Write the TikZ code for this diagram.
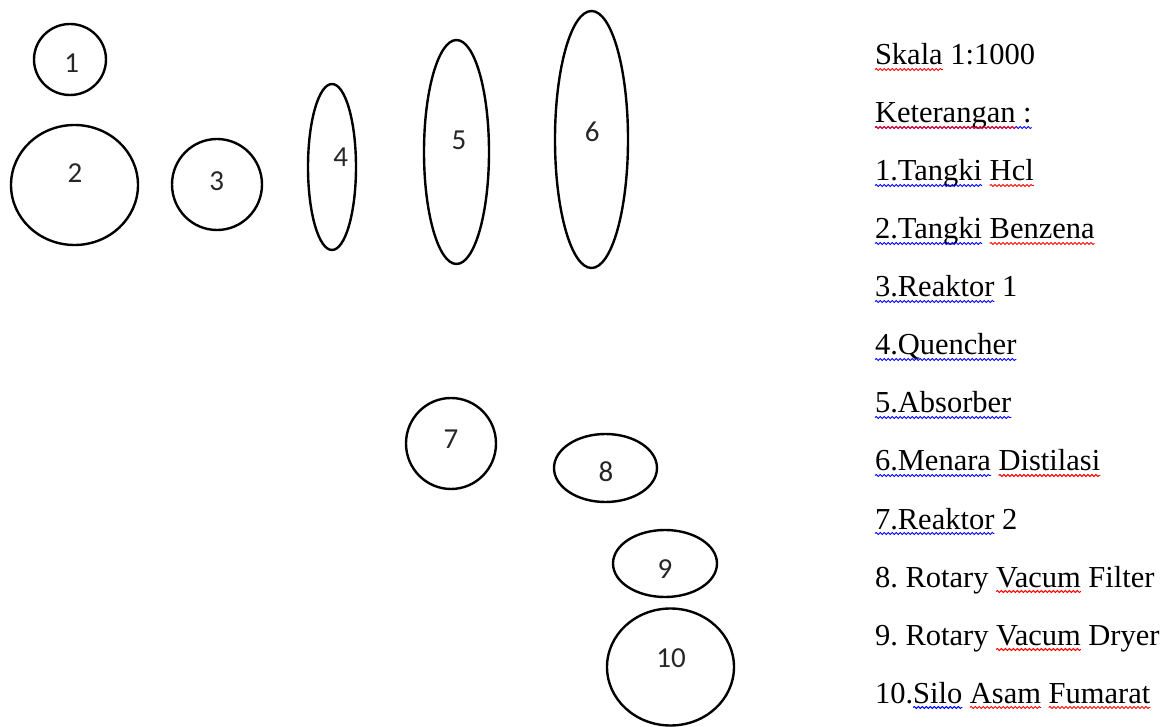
\documentclass[tikz,border=0pt]{standalone}
\usepackage{fontspec}
\setmainfont{Liberation Serif}
\newfontfamily\numfont{Carlito}
\usetikzlibrary{shapes.geometric,decorations.pathmorphing}
\frenchspacing
\newcommand\sqline[3]{\draw[#1] ([yshift=-4.5pt]#2.base west) -- ([yshift=-4.5pt]#3.base east);}
\begin{document}
\begin{tikzpicture}[x=1pt,y=-1pt,
  tank/.style={draw, ellipse, line width=2.4pt, inner sep=0pt},
  num/.style={font=\numfont\fontsize{29}{34}\selectfont, inner sep=0pt, text=black!85},
  lg/.style={font=\fontsize{30.5}{36}\selectfont, inner sep=0pt, outer sep=0pt, anchor=base west},
  wv/.style={decorate, decoration={snake, amplitude=1pt, segment length=4pt}, line width=0.9pt},
  wr/.style={wv, red},
  wb/.style={wv, blue}]
\useasboundingbox (0,0) rectangle (1171,727);
% vessels
\node[tank, minimum width=72pt, minimum height=71pt] (e1) at (70,59.5) {};
\node[tank, minimum width=127pt, minimum height=120pt] (e2) at (74.5,185) {};
\node[tank, minimum width=90pt, minimum height=91pt] (e3) at (217,184.5) {};
\node[tank, minimum width=48pt, minimum height=166pt] (e4) at (332,167) {};
\node[tank, minimum width=65pt, minimum height=224pt] (e5) at (456.5,152) {};
\node[tank, minimum width=73pt, minimum height=257pt] (e6) at (591.5,139.5) {};
\node[tank, minimum width=90pt, minimum height=91pt] (e7) at (451,443.5) {};
\node[tank, minimum width=103pt, minimum height=68pt] (e8) at (605.5,468) {};
\node[tank, minimum width=104pt, minimum height=67pt] (e9) at (665,563.5) {};
\node[tank, minimum width=127pt, minimum height=117pt] (e10) at (670.5,667) {};
% numbers
\node[num] (n1) at (71.7,63.3) {1};
\node[num] (n2) at (75,173) {2};
\node[num] (n3) at (216.7,181.5) {3};
\node[num] (n4) at (340.7,157) {4};
\node[num] (n5) at (459,140) {5};
\node[num] (n6) at (592.3,132) {6};
\node[num] (n7) at (451,439.5) {7};
\node[num] (n8) at (606,472) {8};
\node[num] (n9) at (665,569.5) {9};
\node[num] (n10) at (671,657.7) {10};
% legend
\node[lg] (a1) at (875,65) {Skala};
\node[lg] (b1) at ([xshift=7.6pt]a1.base east) {1:1000};
\sqline{wr}{a1}{a1}
\node[lg] (a2) at (875,123) {Keterangan};
\node[lg] (b2) at ([xshift=7.6pt]a2.base east) {:};
\sqline{wb}{a2}{b2}
\sqline{wr}{a2}{a2}
\node[lg] (a3) at (875,181) {1.Tangki};
\node[lg] (b3) at ([xshift=7.6pt]a3.base east) {Hcl};
\sqline{wb}{a3}{a3}
\sqline{wr}{b3}{b3}
\node[lg] (a4) at (875,239) {2.Tangki};
\node[lg] (b4) at ([xshift=7.6pt]a4.base east) {Benzena};
\sqline{wb}{a4}{a4}
\sqline{wr}{b4}{b4}
\node[lg] (a5) at (875,297) {3.Reaktor};
\node[lg] (b5) at ([xshift=7.6pt]a5.base east) {1};
\sqline{wb}{a5}{a5}
\node[lg] (a6) at (875,355) {4.Quencher};
\sqline{wb}{a6}{a6}
\node[lg] (a7) at (875,413) {5.Absorber};
\sqline{wb}{a7}{a7}
\node[lg] (a8) at (875,471) {6.Menara};
\node[lg] (b8) at ([xshift=7.6pt]a8.base east) {Distilasi};
\sqline{wb}{a8}{a8}
\sqline{wr}{b8}{b8}
\node[lg] (a9) at (875,529) {7.Reaktor};
\node[lg] (b9) at ([xshift=7.6pt]a9.base east) {2};
\sqline{wb}{a9}{a9}
\node[lg] (a10) at (875,587) {8. Rotary};
\node[lg] (b10) at ([xshift=7.6pt]a10.base east) {Vacum};
\node[lg] (c10) at ([xshift=7.6pt]b10.base east) {Filter};
\sqline{wr}{b10}{b10}
\node[lg] (a11) at (875,645) {9. Rotary};
\node[lg] (b11) at ([xshift=7.6pt]a11.base east) {Vacum};
\node[lg] (c11) at ([xshift=7.6pt]b11.base east) {Dryer};
\sqline{wr}{b11}{b11}
\node[lg] (a12) at (875,703) {10.};
\node[lg] (b12) at (a12.base east) {Silo};
\node[lg] (c12) at ([xshift=7.6pt]b12.base east) {Asam};
\node[lg] (d12) at ([xshift=7.6pt]c12.base east) {Fumarat};
\sqline{wb}{b12}{b12}
\sqline{wr}{c12}{c12}
\sqline{wr}{d12}{d12}
\end{tikzpicture}
\end{document}
